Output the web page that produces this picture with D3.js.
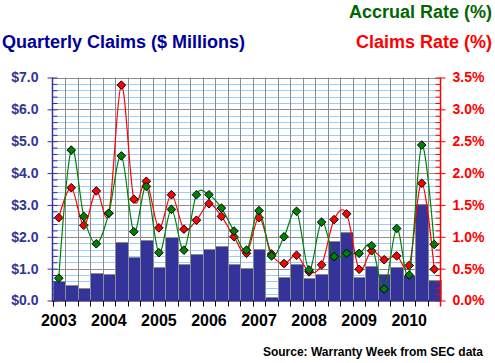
<!DOCTYPE html>
<html>
<head>
<meta charset="utf-8">
<script src="https://cdn.jsdelivr.net/npm/d3@7"></script>
<style>
  html, body { margin: 0; padding: 0; background: #fff; }
  svg { display: block; }
  text { font-family: Arial, "Liberation Sans", sans-serif; font-weight: bold; }
</style>
</head>
<body>
<svg id="chart" width="495" height="363"></svg>
<script>
// ---- Data ----
const quarters = [
  "2003Q1","2003Q2","2003Q3","2003Q4",
  "2004Q1","2004Q2","2004Q3","2004Q4",
  "2005Q1","2005Q2","2005Q3","2005Q4",
  "2006Q1","2006Q2","2006Q3","2006Q4",
  "2007Q1","2007Q2","2007Q3","2007Q4",
  "2008Q1","2008Q2","2008Q3","2008Q4",
  "2009Q1","2009Q2","2009Q3","2009Q4",
  "2010Q1","2010Q2","2010Q3"
];
const claims = [0.62,0.49,0.38,0.85, 0.82,1.83,1.36,1.89, 1.04,1.98,1.15,1.45,
                1.61,1.71,1.15,1.01, 1.61,0.10,0.73,1.15, 0.70,0.82,1.88,2.16,
                0.73,1.07,0.82,1.04, 0.80,3.02,0.63];
const claimsRate = [1.30,1.77,1.18,1.72, 1.37,3.38,1.59,1.87, 1.14,1.66,1.12,1.26,
                    1.52,1.32,1.00,0.74, 1.30,0.73,0.58,0.71, 0.45,0.56,1.27,1.36,
                    0.49,0.78,0.64,0.70, 0.55,1.84,0.49];
const accrualRate = [0.35,2.36,1.32,0.89, 1.37,2.27,1.08,1.79, 0.75,1.43,0.79,1.66,
                     1.66,1.45,1.09,0.79, 1.41,0.70,1.00,1.40, 0.48,1.23,0.69,0.74,
                     0.74,0.86,0.18,1.13, 0.40,2.44,0.88];
const yearLabels = ["2003","2004","2005","2006","2007","2008","2009","2010"];
const leftTicks = [0,1,2,3,4,5,6,7];
const rightTicks = [0,0.5,1,1.5,2,2.5,3,3.5];

// ---- Layout ----
const svg = d3.select("#chart");
const L = 52.5, R = 440.5, B = 300.5, T = 77.5;
const x = d3.scaleBand().domain(quarters).range([L, R]).padding(0);
const yL = d3.scaleLinear().domain([0, 7]).range([B, T]);
const yR = d3.scaleLinear().domain([0, 3.5]).range([B, T]);
const minorVals = d3.range(0, 7.0001, 0.2).map(v => +v.toFixed(1));

// grid: minor horizontal (light blue)
svg.append("g").selectAll("line").data(minorVals.filter(v => Math.abs(v - Math.round(v)) > 1e-6))
  .join("line")
  .attr("x1", L).attr("x2", R)
  .attr("y1", d => Math.round(yL(d)) + 0.5).attr("y2", d => Math.round(yL(d)) + 0.5)
  .attr("stroke", "#99ccff").attr("stroke-width", 1);
// major horizontal (gray)
svg.append("g").selectAll("line").data(leftTicks)
  .join("line")
  .attr("x1", L).attr("x2", R)
  .attr("y1", d => Math.round(yL(d)) + 0.5).attr("y2", d => Math.round(yL(d)) + 0.5)
  .attr("stroke", "#8c8c8c").attr("stroke-width", 1);
// vertical grid (gray)
svg.append("g").selectAll("line").data(quarters.slice(1))
  .join("line")
  .attr("x1", d => Math.round(x(d)) + 0.5).attr("x2", d => Math.round(x(d)) + 0.5)
  .attr("y1", T).attr("y2", B)
  .attr("stroke", "#8c8c8c").attr("stroke-width", 1);

// bars
svg.append("g").selectAll("rect").data(claims)
  .join("rect")
  .attr("x", (d, i) => Math.round(x(quarters[i])) + 0.5)
  .attr("width", (d, i) => Math.round(x(quarters[i]) + x.bandwidth()) - Math.round(x(quarters[i])))
  .attr("y", d => Math.round(yL(d)) + 0.5)
  .attr("height", d => B - (Math.round(yL(d)) + 0.5))
  .attr("fill", "#333399")
  .attr("stroke", "#8c8c8c").attr("stroke-width", 1);

// lines
const cx = i => x(quarters[i]) + x.bandwidth() / 2;
const lineGen = d3.line().x((d, i) => cx(i)).y(d => yR(d)).curve(d3.curveCardinal.tension(0));
const diamond = (px, py, r) => `M${px},${py - r}L${px + r},${py}L${px},${py + r}L${px - r},${py}Z`;

function series(vals, lineColor, markColor) {
  svg.append("path").datum(vals)
    .attr("d", lineGen).attr("fill", "none")
    .attr("stroke", lineColor).attr("stroke-width", 1.2);
  svg.append("g").selectAll("path").data(vals)
    .join("path")
    .attr("d", (d, i) => diamond(cx(i), yR(d), 4.3))
    .attr("fill", markColor).attr("stroke", "#000").attr("stroke-width", 1);
}
series(claimsRate, "#ff0000", "#ff0000");
series(accrualRate, "#008000", "#008000");

// left axis
const leftAxis = d3.axisLeft(yL).tickValues(leftTicks).tickSize(5).tickPadding(9)
  .tickFormat(d => "$" + d.toFixed(1));
const gL = svg.append("g").attr("transform", `translate(${L},0)`).call(leftAxis);
gL.selectAll("text").attr("fill", "#333399").style("font-size", "14px");
gL.selectAll("line, path").attr("stroke", "#333399");
gL.select(".domain").remove();
const gLm = svg.append("g").attr("transform", `translate(${L},0)`)
  .call(d3.axisRight(yL).tickValues(minorVals).tickSize(5).tickFormat(""));
gLm.selectAll("line").attr("stroke", "#333399");
gLm.select(".domain").attr("d", `M0,${T}V${B + 1.5}`).attr("stroke", "#333399").attr("stroke-width", 1.5);

// right axis
const rightAxis = d3.axisRight(yR).tickValues(rightTicks).tickSize(5).tickPadding(7)
  .tickFormat(d => d.toFixed(1) + "%");
const gR = svg.append("g").attr("transform", `translate(${R},0)`).call(rightAxis);
gR.selectAll("text").attr("fill", "#ff0000").style("font-size", "14px");
gR.selectAll("line").attr("stroke", "#ff0000");
gR.select(".domain").remove();
const gRm = svg.append("g").attr("transform", `translate(${R},0)`)
  .call(d3.axisLeft(yR).tickValues(minorVals.map(v => v / 2)).tickSize(5).tickFormat(""));
gRm.selectAll("line").attr("stroke", "#ff0000");
gRm.select(".domain").attr("d", `M0,${T}V${B + 6}`).attr("stroke", "#ff0000").attr("stroke-width", 1.5);

// bottom axis
const boundaries = quarters.map(q => x(q)).concat([R]);
svg.append("g").selectAll("line").data(boundaries.slice(0, -1))
  .join("line")
  .attr("x1", d => Math.round(d) + 0.5).attr("x2", d => Math.round(d) + 0.5)
  .attr("y1", B).attr("y2", B + 6)
  .attr("stroke", "#000");
svg.append("line").attr("x1", L).attr("x2", R).attr("y1", B).attr("y2", B)
  .attr("stroke", "#333399").attr("stroke-width", 1.5);
svg.append("g").selectAll("text").data(yearLabels)
  .join("text")
  .attr("x", d => x(d + "Q1") + x.bandwidth() / 2)
  .attr("y", 326)
  .attr("text-anchor", "middle")
  .style("font-size", "16px").attr("fill", "#000")
  .text(d => d);

// titles
svg.append("text").attr("x", 2).attr("y", 47.5).style("font-size", "18px")
  .attr("fill", "#000099").text("Quarterly Claims ($ Millions)");
svg.append("text").attr("x", 492).attr("y", 17.5).attr("text-anchor", "end").style("font-size", "18px")
  .attr("fill", "#006600").text("Accrual Rate (%)");
svg.append("text").attr("x", 492).attr("y", 47.5).attr("text-anchor", "end").style("font-size", "18px")
  .attr("fill", "#ff0000").text("Claims Rate (%)");
svg.append("text").attr("x", 483).attr("y", 355.5).attr("text-anchor", "end").style("font-size", "12px")
  .attr("fill", "#000").text("Source: Warranty Week from SEC data");
</script>
</body>
</html>
